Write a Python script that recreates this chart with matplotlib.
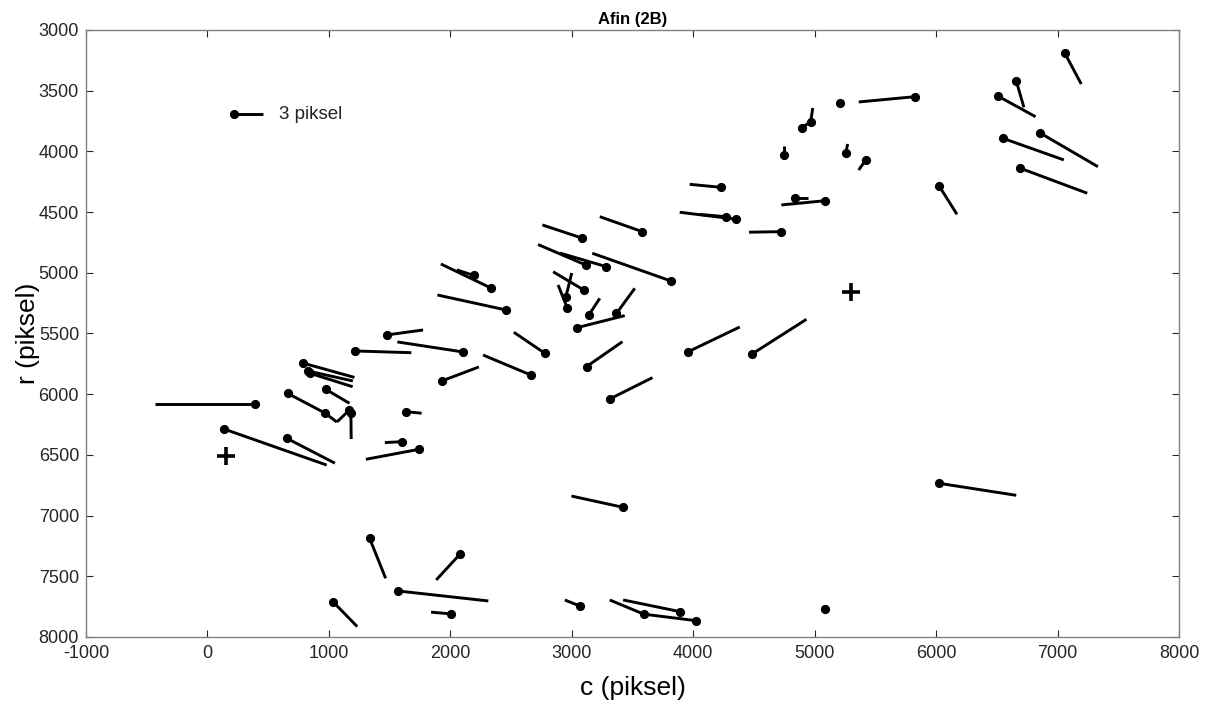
import matplotlib
matplotlib.use("Agg")
import matplotlib.pyplot as plt
import numpy as np

plt.rcParams['font.family'] = ['Liberation Sans', 'DejaVu Sans']
plt.rcParams['axes.unicode_minus'] = False

# Point positions (column c, row r) in image pixels
c = np.array([7057, 6660, 6508, 6549, 6852, 6693, 6023, 6023, 5829, 5205,
              4895, 4967, 4747, 5255, 5420, 5088, 4835, 4726, 4226, 4355,
              4273, 3580, 3080, 3115, 3285, 3815, 3099, 2950, 2963, 3140,
              3368, 3043, 2778, 2662, 3121, 3313, 3955, 4484, 3422, 3066,
              3889, 3595, 4026, 5082, 2333, 2193, 2457, 1477, 2103, 1214,
              1930, 790, 827, 844, 974, 660, 967, 1165, 1181, 391,
              136, 652, 1631, 1603, 1743, 1335, 2081, 1568, 1033, 2006])
r = np.array([3187, 3420, 3544, 3892, 3846, 4139, 4282, 6734, 3549, 3599,
              3805, 3758, 4030, 4016, 4071, 4406, 4381, 4661, 4296, 4559,
              4538, 4661, 4713, 4936, 4950, 5067, 5142, 5202, 5290, 5348,
              5334, 5452, 5663, 5842, 5773, 6039, 5652, 5669, 6932, 7745,
              7791, 7813, 7866, 7769, 5125, 5022, 5306, 5512, 5652, 5644,
              5891, 5745, 5809, 5828, 5960, 5993, 6155, 6134, 6155, 6081,
              6287, 6363, 6144, 6391, 6454, 7187, 7316, 7621, 7709, 7810])

# Residuals in pixels (dc along columns, dr along rows)
dc = np.array([1.72, 0.78, 3.88, 6.28, 6.00, 6.89, 1.85, 7.96, -5.83, 0.10,
               0.90, 0.21, 0.00, 0.21, -0.72, -4.53, 1.34, -3.33, -3.19, -5.83,
               -2.75, -4.37, -4.03, -4.91, -4.80, -8.08, -3.16, 0.62, -0.95, 1.13,
               1.88, 4.91, -3.19, -4.91, 3.70, 4.39, 5.35, 5.60, -5.31, -1.54,
               -5.83, -3.53, -5.32, -0.20, -5.14, -1.75, -7.05, 3.73, -6.74, 5.81,
               3.81, 5.25, 4.63, 4.39, 2.44, 3.84, 1.23, -1.23, 0.03, -10.29,
               10.57, 4.97, 1.65, -1.78, -5.48, 1.65, -2.47, 9.31, 2.50, -2.06])
dr = np.array([3.22, 2.71, 2.13, 2.23, 3.50, 2.57, 2.95, 1.24, 0.55, 0.05,
               -0.62, -1.44, -0.93, -0.96, 1.03, 0.44, 0.00, 0.06, -0.31, -0.72,
               -0.23, -1.54, -1.34, -2.11, -1.41, -2.85, -1.88, -2.50, -2.37, -1.72,
               -2.57, -1.24, -2.16, -2.06, -2.57, -2.19, -2.57, -3.57, -1.16, -0.62,
               -1.20, -1.47, -0.66, -0.30, -2.47, -0.57, -1.54, -0.51, -1.03, 0.18,
               -1.44, 1.46, 1.03, 1.38, 1.44, 2.03, 0.93, 1.18, 2.68, 0.00,
               3.71, 2.57, 0.16, 0.10, 1.03, 4.12, 2.68, 1.03, 2.57, -0.18])

# Reference (cross) points
cross_c = [150, 5300]
cross_r = [6510, 5160]

# Scale key
key_c, key_r = 220, 3695
key_len = 3  # pixels
key_label = "3 piksel"

scale = 80  # plot units per pixel of residual

fig = plt.figure(figsize=(12.15, 7.09), dpi=100)
ax = fig.add_axes([0.0708, 0.1016, 0.8996, 0.8561])

lw = 2.1
ms = 5.6
for ci, ri, dci, dri in zip(c, r, dc, dr):
    ax.plot([ci, ci + scale * dci], [ri, ri + scale * dri], color='black',
            lw=lw, solid_capstyle='butt')
ax.plot(c, r, 'o', color='black', ms=ms, mec='black')

ax.plot(cross_c, cross_r, '+', color='black', ms=13, mew=2.6)

ax.plot([key_c, key_c + scale * key_len], [key_r, key_r], color='black', lw=lw,
        solid_capstyle='butt')
ax.plot([key_c], [key_r], 'o', color='black', ms=ms)
ax.text(590, key_r, key_label, fontsize=13.5, va='center', ha='left', color='#222222')

ax.set_xlim(-1000, 8000)
ax.set_ylim(8000, 3000)
ax.set_xticks(np.arange(-1000, 8001, 1000))
ax.set_yticks(np.arange(3000, 8001, 500))
ax.tick_params(direction='in', top=True, right=True, length=5, width=0.8,
               colors='#262626', labelsize=13)
ax.tick_params(axis='x', pad=6)
ax.tick_params(axis='y', pad=5)
for s in ax.spines.values():
    s.set_color('#808080')
    s.set_linewidth(1.0)

ax.set_title('Afin (2B)', fontsize=12, fontweight='bold', pad=4)
ax.set_xlabel('c (piksel)', fontsize=19, labelpad=10)
ax.set_ylabel('r (piksel)', fontsize=19, labelpad=-1)

fig.savefig('out.png', dpi=100)
